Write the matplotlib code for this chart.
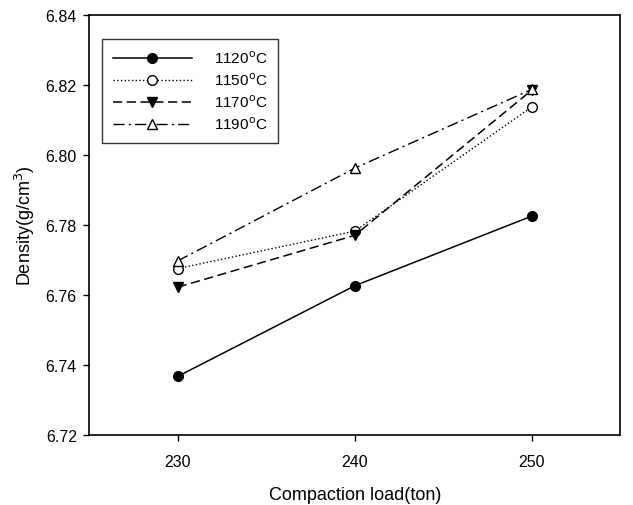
import matplotlib.pyplot as plt

plt.rcParams['font.family'] = ['Liberation Sans', 'DejaVu Sans']

loads = [230, 240, 250]
d1120 = [6.7368, 6.7627, 6.7826]
d1150 = [6.7676, 6.7783, 6.8138]
d1170 = [6.7623, 6.7771, 6.8186]
d1190 = [6.7698, 6.7963, 6.8188]
labels = ['1120$^{\\rm o}$C', '1150$^{\\rm o}$C', '1170$^{\\rm o}$C', '1190$^{\\rm o}$C']

fig = plt.figure(figsize=(6.33, 5.06), dpi=100)
ax = fig.add_axes([0.141, 0.138, 0.839, 0.830])

ax.plot(loads, d1120, color='black', linestyle='-', linewidth=1.1,
        marker='o', markersize=7, markerfacecolor='black', label=labels[0])
ax.plot(loads, d1150, color='black', linestyle=':', linewidth=1.0,
        marker='o', markersize=7, markerfacecolor='white', label=labels[1])
ax.plot(loads, d1170, color='black', linestyle=(0, (6, 3)), linewidth=1.1,
        marker='v', markersize=7, markerfacecolor='black', label=labels[2])
ax.plot(loads, d1190, color='black', linestyle=(0, (8, 3, 1.5, 3)), linewidth=1.0,
        marker='^', markersize=7, markerfacecolor='white', label=labels[3])

ax.set_xlim(225, 255)
ax.set_ylim(6.72, 6.84)
ax.set_xticks([230, 240, 250])
ax.set_yticks([6.72, 6.74, 6.76, 6.78, 6.80, 6.82, 6.84])
ax.set_yticklabels(['6.72', '6.74', '6.76', '6.78', '6.80', '6.82', '6.84'])
ax.tick_params(axis='x', labelsize=11.5, length=4.5, width=1, pad=9)
ax.tick_params(axis='y', labelsize=11.5, length=4, width=1, pad=5)
for s in ax.spines.values():
    s.set_linewidth(1.2)

ax.set_xlabel('Compaction load(ton)', fontsize=13, labelpad=12)
ax.set_ylabel('Density(g/cm$^3$)', fontsize=13, labelpad=6)

leg = ax.legend(loc='upper left', bbox_to_anchor=(0.024, 0.943), fontsize=11,
                frameon=True, fancybox=False, edgecolor='black', handlelength=5.2,
                handletextpad=1.4, borderpad=0.7, labelspacing=0.35,
                borderaxespad=0)
leg.get_frame().set_linewidth(1.0)

fig.savefig('out.png', dpi=100)
